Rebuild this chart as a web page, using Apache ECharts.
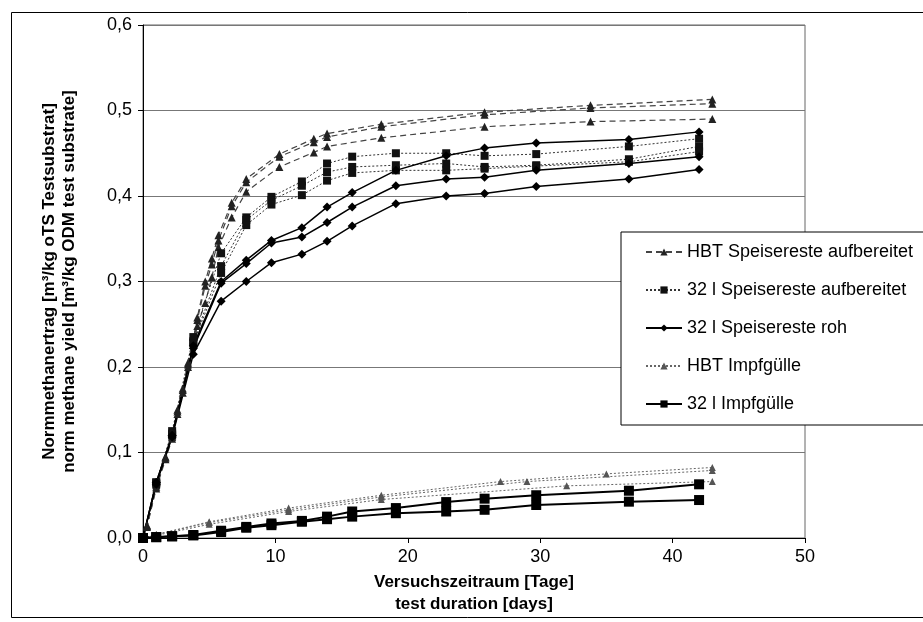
<!DOCTYPE html>
<html>
<head>
<meta charset="utf-8">
<script src="https://cdn.jsdelivr.net/npm/echarts@6/dist/echarts.min.js"></script>
<style>
  body { margin: 0; background: #fff; }
  #content-middle { width: 923px; height: 622px; }
</style>
</head>
<body>
<div id="content-middle"></div>
<script>
// 32 l Reaktor: Messtage
var daysReactor = [0, 1, 2.2, 3.8, 5.9, 7.8, 9.7, 12, 13.9, 15.8, 19.1, 22.9, 25.8, 29.7, 36.7, 42];
// HBT Speisereste: Messtage
var daysHbt = [0, 0.3, 1, 1.7, 2.2, 2.6, 3, 3.4, 3.8, 4.1, 4.7, 5.2, 5.7, 6.7, 7.8, 10.3, 12.9, 13.9, 18, 25.8, 33.8, 43];
var daysHbtImpf1 = [0, 1, 5, 11, 18, 27, 35, 43];
var daysHbtImpf2 = [0, 1, 5, 11, 18, 29, 43];
var daysHbtImpf3 = [0, 1, 5, 11, 18, 32, 43];

var hbtSpeiseA = [0, 0.015, 0.062, 0.095, 0.12, 0.15, 0.175, 0.205, 0.232, 0.258, 0.3, 0.327, 0.354, 0.392, 0.42, 0.449, 0.467, 0.473, 0.484, 0.498, 0.506, 0.513];
var hbtSpeiseB = [0, 0.014, 0.06, 0.094, 0.118, 0.148, 0.173, 0.203, 0.23, 0.255, 0.295, 0.32, 0.348, 0.388, 0.416, 0.446, 0.463, 0.469, 0.481, 0.495, 0.503, 0.508];
var hbtSpeiseC = [0, 0.013, 0.058, 0.092, 0.116, 0.145, 0.17, 0.2, 0.226, 0.248, 0.275, 0.305, 0.34, 0.375, 0.405, 0.434, 0.451, 0.458, 0.468, 0.481, 0.487, 0.49];

var speiseAufb1 = [0, 0.065, 0.125, 0.235, 0.333, 0.375, 0.399, 0.417, 0.438, 0.446, 0.45, 0.45, 0.447, 0.449, 0.458, 0.467];
var speiseAufb2 = [0, 0.065, 0.122, 0.23, 0.318, 0.372, 0.395, 0.412, 0.428, 0.434, 0.436, 0.438, 0.434, 0.436, 0.443, 0.458];
var speiseAufb3 = [0, 0.063, 0.12, 0.228, 0.31, 0.366, 0.39, 0.401, 0.418, 0.427, 0.43, 0.43, 0.432, 0.435, 0.44, 0.452];

var speiseRoh1 = [0, 0.065, 0.12, 0.225, 0.3, 0.325, 0.348, 0.363, 0.387, 0.404, 0.43, 0.447, 0.456, 0.462, 0.466, 0.475];
var speiseRoh2 = [0, 0.065, 0.12, 0.222, 0.298, 0.321, 0.345, 0.352, 0.369, 0.387, 0.412, 0.42, 0.422, 0.43, 0.438, 0.446];
var speiseRoh3 = [0, 0.063, 0.118, 0.215, 0.277, 0.3, 0.322, 0.332, 0.347, 0.365, 0.391, 0.4, 0.403, 0.411, 0.42, 0.431];

var hbtImpf1 = [0, 0.004, 0.019, 0.035, 0.05, 0.066, 0.075, 0.0825];
var hbtImpf2 = [0, 0.004, 0.018, 0.033, 0.048, 0.066, 0.079];
var hbtImpf3 = [0, 0.003, 0.016, 0.031, 0.045, 0.061, 0.066];

var impf1 = [0, 0.001, 0.002, 0.0035, 0.0085, 0.013, 0.017, 0.02, 0.025, 0.031, 0.035, 0.042, 0.046, 0.05, 0.0553, 0.0628];
var impf2 = [0, 0.001, 0.002, 0.003, 0.007, 0.012, 0.015, 0.019, 0.022, 0.025, 0.029, 0.031, 0.033, 0.0386, 0.0425, 0.0444];

var legendNames = ['HBT Speisereste aufbereitet', '32 l Speisereste aufbereitet', '32 l Speisereste roh', 'HBT Impfgülle', '32 l Impfgülle'];
var xTicks = { min: 0, max: 50, interval: 10 };
var yTicks = { min: 0, max: 0.6, interval: 0.1 };

var font = 'Arial, "Liberation Sans", sans-serif';

function pairs(days, vals) {
    return days.map(function (d, i) { return [d, vals[i]]; });
}

// 每组样式
var styles = [
    { symbol: 'triangle', symbolSize: 8, lineStyle: { color: '#444', width: 1.2, type: [6, 4] }, itemStyle: { color: '#222' } },
    { symbol: 'rect', symbolSize: 8, lineStyle: { color: '#333', width: 1, type: [2, 2] }, itemStyle: { color: '#111' } },
    { symbol: 'diamond', symbolSize: 9, lineStyle: { color: '#000', width: 1.5, type: 'solid' }, itemStyle: { color: '#000' } },
    { symbol: 'triangle', symbolSize: 7, lineStyle: { color: '#666', width: 1, type: [2, 2] }, itemStyle: { color: '#555' } },
    { symbol: 'rect', symbolSize: 10, lineStyle: { color: '#000', width: 2, type: 'solid' }, itemStyle: { color: '#000' } }
];

function makeSeries(group, days, vals) {
    var s = styles[group];
    return {
        name: legendNames[group],
        type: 'line',
        data: pairs(days, vals),
        symbol: s.symbol,
        symbolSize: s.symbolSize,
        showAllSymbol: true,
        lineStyle: s.lineStyle,
        itemStyle: s.itemStyle,
        emphasis: { disabled: true },
        animation: false
    };
}

var myChart = echarts.init(document.getElementById('content-middle'));

var option = {
    backgroundColor: '#fff',
    animation: false,
    textStyle: { fontFamily: font, color: '#000' },
    graphic: [{
        type: 'rect',
        shape: { x: 11.5, y: 12.5, width: 930, height: 605 },
        style: { fill: 'none', stroke: '#000', lineWidth: 1 },
        silent: true
    }],
    grid: {
        left: 143,
        right: 118,
        top: 25,
        bottom: 84,
        show: true,
        borderColor: '#666',
        borderWidth: 1,
        containLabel: false
    },
    legend: {
        data: legendNames,
        orient: 'vertical',
        left: 621,
        top: 232,
        padding: [11, 60, 12, 24],
        itemGap: 20,
        itemWidth: 36,
        itemHeight: 9,
        backgroundColor: '#fff',
        borderColor: '#000',
        borderWidth: 1,
        borderRadius: 0,
        textStyle: { fontSize: 18, fontFamily: font, color: '#000', lineHeight: 18 }
    },
    xAxis: {
        type: 'value',
        min: xTicks.min,
        max: xTicks.max,
        interval: xTicks.interval,
        name: 'Versuchszeitraum [Tage]\ntest duration [days]',
        nameLocation: 'middle',
        nameGap: 30,
        nameTextStyle: { fontSize: 17, fontWeight: 'bold', lineHeight: 22, fontFamily: font, color: '#000' },
        axisLine: { show: true, lineStyle: { color: '#000', width: 1 } },
        axisTick: { show: true, inside: false, length: 5, lineStyle: { color: '#000' } },
        axisLabel: { fontSize: 18, color: '#000', margin: 10, fontFamily: font },
        splitLine: { show: false }
    },
    yAxis: {
        type: 'value',
        min: yTicks.min,
        max: yTicks.max,
        interval: yTicks.interval,
        name: 'Normmethanertrag [m³/kg oTS Testsubstrat]\nnorm methane yield [m³/kg ODM test substrate]',
        nameLocation: 'middle',
        nameRotate: 90,
        nameGap: 64,
        nameTextStyle: { fontSize: 17, fontWeight: 'bold', lineHeight: 20, fontFamily: font, color: '#000' },
        axisLine: { show: true, lineStyle: { color: '#000', width: 1 } },
        axisTick: { show: true, inside: false, length: 5, lineStyle: { color: '#000' } },
        axisLabel: {
            fontSize: 18, color: '#000', margin: 11, fontFamily: font,
            formatter: function (v) { return v.toFixed(1).replace('.', ','); }
        },
        splitLine: { show: true, lineStyle: { color: '#777', width: 1 } }
    },
    series: [
        makeSeries(0, daysHbt, hbtSpeiseA),
        makeSeries(0, daysHbt, hbtSpeiseB),
        makeSeries(0, daysHbt, hbtSpeiseC),
        makeSeries(1, daysReactor, speiseAufb1),
        makeSeries(1, daysReactor, speiseAufb2),
        makeSeries(1, daysReactor, speiseAufb3),
        makeSeries(2, daysReactor, speiseRoh1),
        makeSeries(2, daysReactor, speiseRoh2),
        makeSeries(2, daysReactor, speiseRoh3),
        makeSeries(3, daysHbtImpf1, hbtImpf1),
        makeSeries(3, daysHbtImpf2, hbtImpf2),
        makeSeries(3, daysHbtImpf3, hbtImpf3),
        makeSeries(4, daysReactor, impf1),
        makeSeries(4, daysReactor, impf2)
    ]
};

myChart.setOption(option);
</script>
</body>
</html>
